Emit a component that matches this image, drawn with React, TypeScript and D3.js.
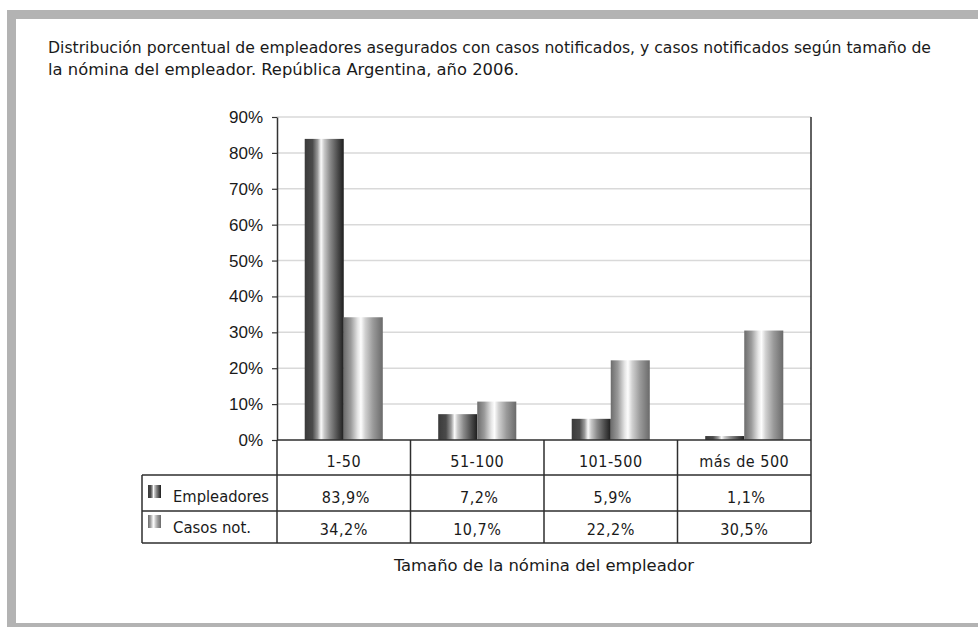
import React, { useEffect, useRef } from 'react';
import * as d3 from 'd3';

const categories = ['1-50', '51-100', '101-500', 'más de 500'];
const seriesNames = ['Empleadores', 'Casos not.'];
const empleadores = [83.9, 7.2, 5.9, 1.1];
const casos = [34.2, 10.7, 22.2, 30.5];
const yTicks = [0, 10, 20, 30, 40, 50, 60, 70, 80, 90];

const title1 = 'Distribución porcentual de empleadores asegurados con casos notificados, y casos notificados según tamaño de';
const title2 = 'la nómina del empleador. República Argentina, año 2006.';
const axisTitle = 'Tamaño de la nómina del empleador';

const W = 978;
const H = 627;
const FONT = '"Liberation Sans", Arial, sans-serif';
const TFONT = '"DejaVu Sans Condensed", "DejaVu Sans", sans-serif';

const App = () => {
  const svgRef = useRef<SVGSVGElement>(null);

  useEffect(() => {
    const svg = d3.select(svgRef.current);
    svg.selectAll('*').remove();

    const margin = { top: 117, right: 811, bottom: 440, left: 277 };
    const legendLeft = 142;
    const rowLines = [475, 511, 543];

    const esLocale = d3.formatLocale({ decimal: ',', thousands: '.', grouping: [3], currency: ['$', ''] });
    const fmt = esLocale.format('.1f');

    const x0 = d3.scaleBand<string>()
      .domain(categories)
      .range([margin.left, margin.right])
      .paddingInner(0)
      .paddingOuter(0);

    const x1 = d3.scaleBand<string>()
      .domain(seriesNames)
      .range([0, x0.bandwidth()])
      .paddingInner(0)
      .paddingOuter(0.71);

    const y = d3.scaleLinear()
      .domain([0, 90])
      .range([margin.bottom, margin.top]);

    // gradients
    const defs = svg.append('defs');
    const darkGrad = defs.append('linearGradient').attr('id', 'gDark');
    [
      [0, '#3a3a3a'], [0.2, '#4a4a4a'], [0.33, '#9a9a9a'], [0.42, '#fbfbfb'], [0.5, '#c8c8c8'],
      [0.65, '#8a8a8a'], [0.85, '#4a4a4a'], [1, '#1e1e1e']
    ].forEach(([o, c]) => darkGrad.append('stop').attr('offset', o as number).attr('stop-color', c as string));
    const lightGrad = defs.append('linearGradient').attr('id', 'gLight');
    [
      [0, '#6c6c6c'], [0.18, '#9a9a9a'], [0.36, '#e6e6e6'], [0.44, '#fdfdfd'], [0.55, '#d0d0d0'],
      [0.75, '#9a9a9a'], [1, '#6a6a6a']
    ].forEach(([o, c]) => lightGrad.append('stop').attr('offset', o as number).attr('stop-color', c as string));
    const fills = ['url(#gDark)', 'url(#gLight)'];

    // frame
    svg.append('rect').attr('x', 0).attr('y', 0).attr('width', W).attr('height', H).attr('fill', '#fff');
    svg.append('rect').attr('x', 7).attr('y', 10).attr('width', W).attr('height', H).attr('fill', '#b3b3b3');
    svg.append('rect').attr('x', 16).attr('y', 19).attr('width', W).attr('height', 604).attr('fill', '#fff');

    // title
    svg.append('text').attr('x', 48).attr('y', 53)
      .attr('textLength', 883).attr('lengthAdjust', 'spacingAndGlyphs')
      .style('font-family', TFONT).style('font-size', '15.5px').attr('fill', '#1a1a1a')
      .text(title1);
    svg.append('text').attr('x', 48).attr('y', 75)
      .attr('textLength', 471).attr('lengthAdjust', 'spacingAndGlyphs')
      .style('font-family', TFONT).style('font-size', '15.5px').attr('fill', '#1a1a1a')
      .text(title2);

    // gridlines
    svg.append('g')
      .selectAll('line')
      .data(yTicks.filter(d => d > 0))
      .join('line')
      .attr('x1', margin.left).attr('x2', margin.right)
      .attr('y1', d => y(d)).attr('y2', d => y(d))
      .attr('stroke', '#d9d9d9').attr('stroke-width', 1.5);

    // bars
    const groups = svg.append('g')
      .selectAll('g')
      .data(categories.map((c, i) => ({ c, vals: [empleadores[i], casos[i]] })))
      .join('g')
      .attr('transform', d => `translate(${x0(d.c)},0)`);

    groups.selectAll('rect')
      .data(d => d.vals.map((v, j) => ({ v, s: seriesNames[j], j })))
      .join('rect')
      .attr('x', d => x1(d.s) as number)
      .attr('width', x1.bandwidth())
      .attr('y', d => y(d.v))
      .attr('height', d => y(0) - y(d.v))
      .attr('fill', d => fills[d.j]);

    // y axis
    const yAxis = d3.axisLeft(y)
      .tickValues(yTicks)
      .tickFormat(d => `${d}%`)
      .tickSize(5)
      .tickSizeOuter(0)
      .tickPadding(9);

    const yg = svg.append('g')
      .attr('transform', `translate(${margin.left},0)`)
      .call(yAxis);
    yg.select('.domain').attr('stroke', '#333').attr('stroke-width', 1.5);
    yg.selectAll('.tick line').attr('stroke', '#333').attr('stroke-width', 1.2);
    yg.selectAll('.tick text')
      .style('font-family', FONT).style('font-size', '17px').attr('fill', '#1a1a1a');

    const lineColor = '#2e2e2e';
    const lines = svg.append('g').attr('stroke', lineColor).attr('stroke-width', 1.5);

    // plot right border and bottom (axis line)
    lines.append('line').attr('x1', margin.right).attr('x2', margin.right).attr('y1', margin.top).attr('y2', rowLines[2]);
    lines.append('line').attr('x1', margin.left).attr('x2', margin.right).attr('y1', y(0)).attr('y2', y(0));

    // table verticals
    categories.forEach(c => {
      lines.append('line')
        .attr('x1', x0(c) as number).attr('x2', x0(c) as number)
        .attr('y1', y(0)).attr('y2', rowLines[2]);
    });
    lines.append('line').attr('x1', legendLeft).attr('x2', legendLeft).attr('y1', rowLines[0]).attr('y2', rowLines[2]);
    rowLines.forEach(ry => {
      lines.append('line').attr('x1', legendLeft).attr('x2', margin.right).attr('y1', ry).attr('y2', ry);
    });

    // table text
    const cellText = (xx: number, yy: number, t: string) =>
      svg.append('text').attr('x', xx).attr('y', yy)
        .attr('text-anchor', 'middle')
        .style('font-family', TFONT).style('font-size', '16px').attr('fill', '#1a1a1a')
        .style('letter-spacing', '0.5px')
        .text(t);

    categories.forEach((c, i) => {
      const cx = (x0(c) as number) + x0.bandwidth() / 2;
      cellText(cx, 467, c);
      cellText(cx + 2, 503, `${fmt(empleadores[i])}%`);
      cellText(cx, 535, `${fmt(casos[i])}%`);
    });

    // legend cells
    [[485, 502], [515, 533]].forEach(([sy, ty], j) => {
      svg.append('rect').attr('x', 148).attr('y', sy).attr('width', 13).attr('height', 13).attr('fill', fills[j]);
      svg.append('text').attr('x', 173).attr('y', ty)
        .style('font-family', TFONT).style('font-size', '16px').attr('fill', '#1a1a1a')
        .attr('textLength', j === 0 ? 96 : 78).attr('lengthAdjust', 'spacingAndGlyphs')
        .text(seriesNames[j]);
    });

    // x axis title
    svg.append('text')
      .attr('x', (margin.left + margin.right) / 2).attr('y', 571)
      .attr('text-anchor', 'middle')
      .style('font-family', TFONT).style('font-size', '16px').attr('fill', '#1a1a1a')
      .attr('textLength', 300).attr('lengthAdjust', 'spacingAndGlyphs')
      .text(axisTitle);
  }, []);

  return (
    <svg ref={svgRef} width={W} height={H} style={{ position: 'absolute', left: 0, top: 0 }} />
  );
};

export default App;
